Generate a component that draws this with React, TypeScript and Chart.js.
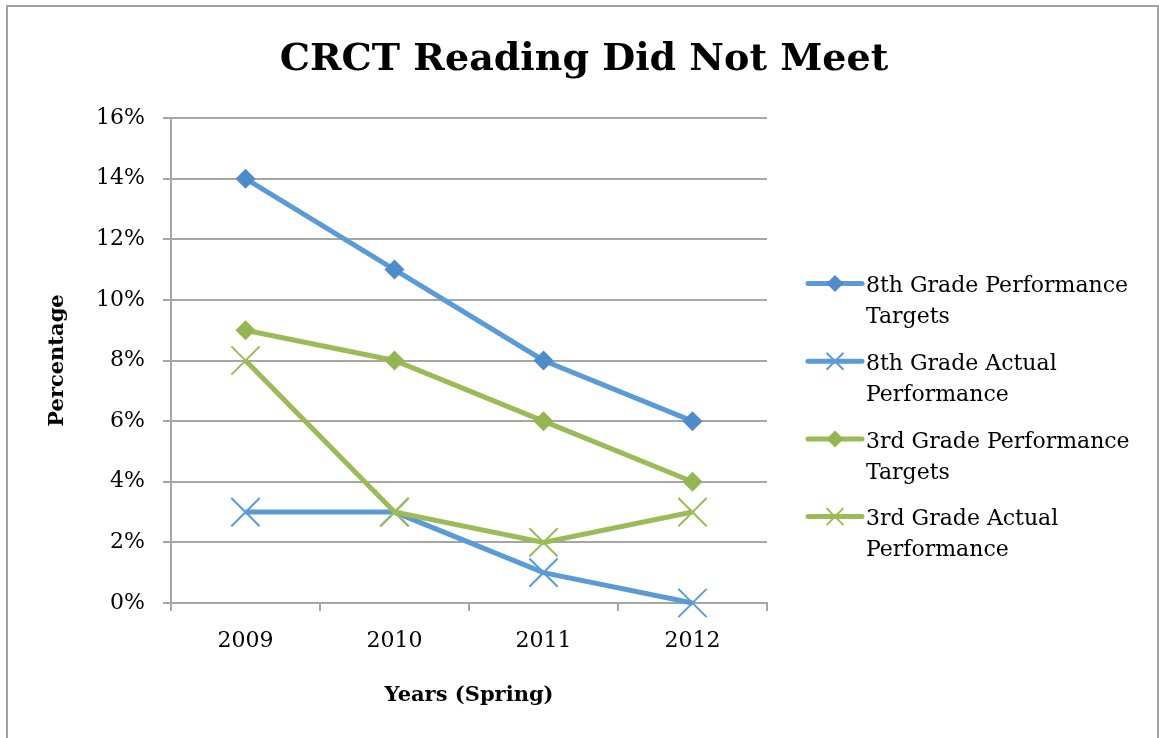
import React, { useEffect, useRef } from "react";
import { Chart, registerables } from "chart.js";

Chart.register(...registerables);

const chartTitle = "CRCT Reading Did Not Meet";
const xTitle = "Years (Spring)";
const yTitle = "Percentage";
const years = ["2009", "2010", "2011", "2012"];
const grade8Targets = [14, 11, 8, 6];
const grade8Actual = [3, 3, 1, 0];
const grade3Targets = [9, 8, 6, 4];
const grade3Actual = [8, 3, 2, 3];
const yMin = 0;
const yMax = 16;
const yStep = 2;
const legendLabels = [
  ["8th Grade Performance", "Targets"],
  ["8th Grade Actual", "Performance"],
  ["3rd Grade Performance", "Targets"],
  ["3rd Grade Actual", "Performance"],
];

const FONT = "'DejaVu Serif', serif";
const BLUE = "#5b9bd5";
const BLUE_DARK = "#4f8bcb";
const GREEN = "#9bbb59";
const GREEN_DARK = "#93b552";
const GRID = "#a6a6a6";

const overlayPlugin = {
  id: "overlay",
  afterDraw(chart: any) {
    const ctx = chart.ctx as CanvasRenderingContext2D;
    ctx.save();
    // title
    ctx.fillStyle = "#000";
    ctx.font = `bold 38px ${FONT}`;
    ctx.textAlign = "center";
    ctx.textBaseline = "middle";
    ctx.fillText(chartTitle, 584, 60);
    // legend
    const lx0 = 808;
    const lx1 = 862;
    const mx = 835;
    const tx = 866;
    chart.data.datasets.forEach((ds: any, i: number) => {
      const y = 283.5 + i * 77.7;
      ctx.strokeStyle = ds.borderColor;
      ctx.lineWidth = 5;
      ctx.lineCap = "round";
      ctx.beginPath();
      ctx.moveTo(lx0, y);
      ctx.lineTo(lx1, y);
      ctx.stroke();
      if (ds.pointStyle === "rectRot") {
        ctx.fillStyle = ds.pointBackgroundColor;
        ctx.beginPath();
        ctx.moveTo(mx - 8.5, y);
        ctx.lineTo(mx, y - 8.5);
        ctx.lineTo(mx + 8.5, y);
        ctx.lineTo(mx, y + 8.5);
        ctx.closePath();
        ctx.fill();
      } else {
        ctx.strokeStyle = ds.pointBorderColor;
        ctx.lineWidth = 2;
        ctx.lineCap = "butt";
        ctx.beginPath();
        ctx.moveTo(mx - 8.5, y - 8.5);
        ctx.lineTo(mx + 8.5, y + 8.5);
        ctx.moveTo(mx + 8.5, y - 8.5);
        ctx.lineTo(mx - 8.5, y + 8.5);
        ctx.stroke();
      }
      ctx.fillStyle = "#000";
      ctx.font = `22px ${FONT}`;
      ctx.textAlign = "left";
      ctx.textBaseline = "middle";
      legendLabels[i].forEach((line, j) => {
        ctx.fillText(line, tx, y + 3 + j * 31);
      });
    });
    ctx.restore();
  },
};

export default function App() {
  const ref = useRef<HTMLCanvasElement | null>(null);
  useEffect(() => {
    document.body.style.margin = "0";
    document.body.style.background = "#fff";
    const canvas = ref.current!;
    const chart = new Chart(canvas, {
      type: "line",
      data: {
        labels: years,
        datasets: [
          {
            label: legendLabels[0].join(" "),
            data: grade8Targets,
            borderColor: BLUE,
            backgroundColor: BLUE_DARK,
            borderWidth: 5,
            pointStyle: "rectRot",
            pointRadius: 10,
            pointBackgroundColor: BLUE_DARK,
            pointBorderColor: BLUE_DARK,
            pointBorderWidth: 0,
            order: 3,
            clip: false,
          },
          {
            label: legendLabels[1].join(" "),
            data: grade8Actual,
            borderColor: BLUE,
            backgroundColor: BLUE,
            borderWidth: 5,
            pointStyle: "crossRot",
            pointRadius: 20,
            pointBackgroundColor: BLUE,
            pointBorderColor: BLUE,
            pointBorderWidth: 2,
            order: 2,
            clip: false,
          },
          {
            label: legendLabels[2].join(" "),
            data: grade3Targets,
            borderColor: GREEN,
            backgroundColor: GREEN_DARK,
            borderWidth: 5,
            pointStyle: "rectRot",
            pointRadius: 10,
            pointBackgroundColor: GREEN_DARK,
            pointBorderColor: GREEN_DARK,
            pointBorderWidth: 0,
            order: 1,
            clip: false,
          },
          {
            label: legendLabels[3].join(" "),
            data: grade3Actual,
            borderColor: GREEN,
            backgroundColor: GREEN,
            borderWidth: 5,
            pointStyle: "crossRot",
            pointRadius: 20,
            pointBackgroundColor: GREEN,
            pointBorderColor: GREEN,
            pointBorderWidth: 2,
            order: 0,
            clip: false,
          },
        ] as any,
      },
      options: {
        animation: false,
        responsive: false,
        maintainAspectRatio: false,
        layout: { padding: { top: 118, right: 392, left: 0, bottom: 0 } },
        plugins: {
          legend: { display: false },
          tooltip: { enabled: false },
          title: { display: false },
        },
        scales: {
          x: {
            type: "category",
            offset: true,
            grid: {
              display: true,
              offset: true,
              drawOnChartArea: false,
              drawTicks: true,
              tickLength: 8,
              color: GRID,
              lineWidth: 2,
            },
            border: { display: true, color: GRID, width: 2 },
            ticks: {
              color: "#000",
              font: { family: FONT, size: 22 },
              padding: 17,
              maxRotation: 0,
            },
            title: {
              display: true,
              text: xTitle,
              color: "#000",
              font: { family: FONT, size: 21, weight: "bold" },
              padding: { top: 4, bottom: 30 },
            },
            afterFit(scale: any) {
              scale.height = 738 - 603;
            },
          },
          y: {
            min: yMin,
            max: yMax,
            ticks: {
              stepSize: yStep,
              color: "#000",
              font: { family: FONT, size: 22 },
              padding: 18,
              callback: (v: any) => `${v}%`,
            },
            grid: {
              color: GRID,
              lineWidth: 2,
              tickLength: 8,
              drawTicks: true,
            },
            border: { display: true, color: GRID, width: 2 },
            title: {
              display: true,
              text: yTitle,
              color: "#000",
              font: { family: FONT, size: 21, weight: "bold" },
              padding: { top: 45, bottom: 4 },
            },
            afterFit(scale: any) {
              scale.width = 171;
            },
          },
        },
      } as any,
      plugins: [overlayPlugin],
    });
    return () => chart.destroy();
  }, []);
  return (
    <div style={{ position: "fixed", left: 0, top: 0, width: 1159, height: 738, background: "#fff", overflow: "hidden" }}>
      <canvas ref={ref} width={1159} height={738} style={{ position: "absolute", left: 0, top: 0, width: 1159, height: 738 }} />
      <div
        style={{
          position: "absolute",
          left: 6,
          top: 5,
          width: 1153,
          height: 780,
          border: "2px solid #a0a0a0",
          boxSizing: "border-box",
          pointerEvents: "none",
        }}
      />
    </div>
  );
}
